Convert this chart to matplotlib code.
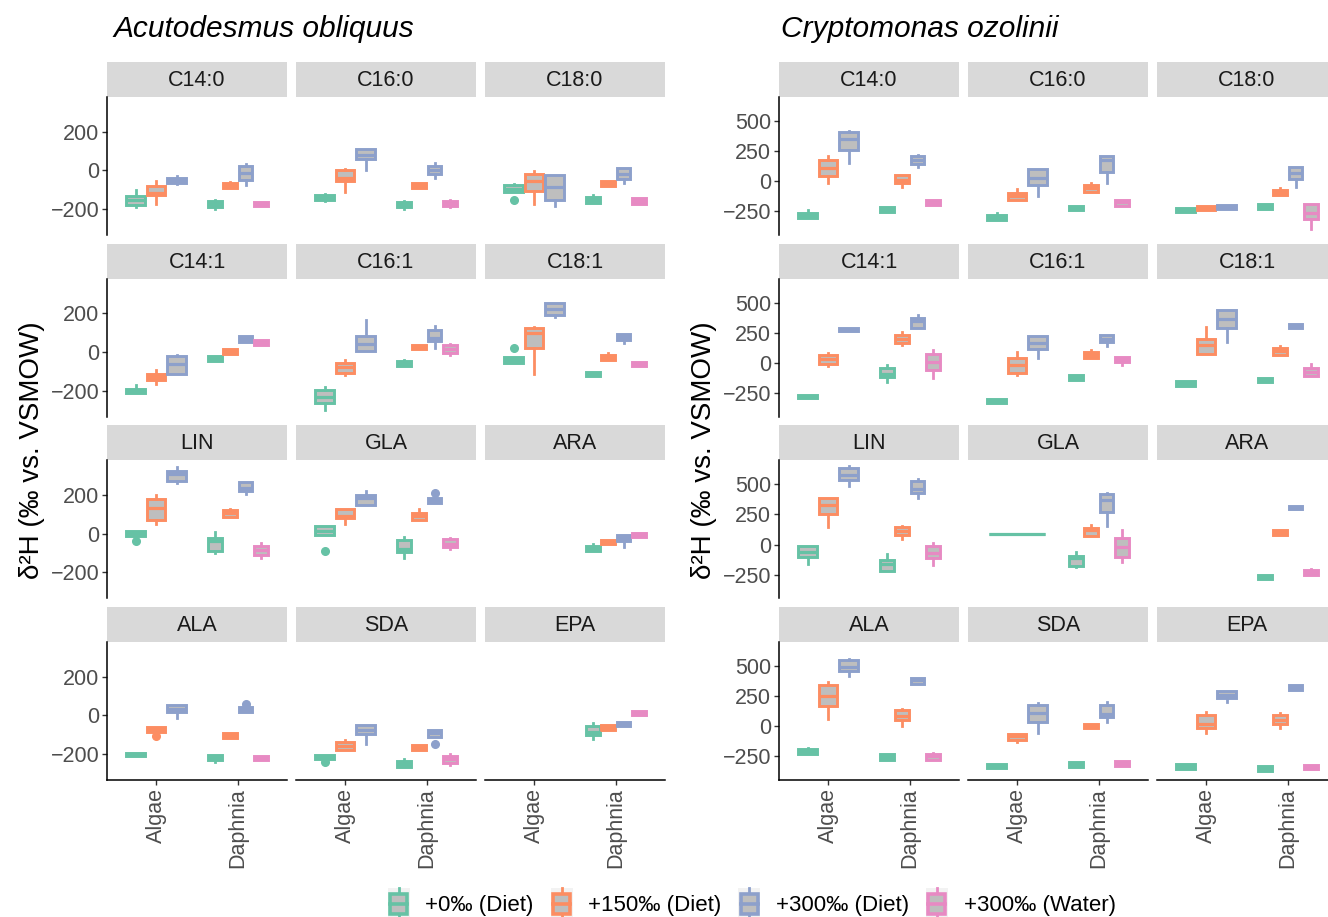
import matplotlib
matplotlib.use("Agg")
import matplotlib.pyplot as plt
from matplotlib.patches import Rectangle, Patch
from matplotlib.lines import Line2D
from matplotlib.legend_handler import HandlerBase

plt.rcParams['font.family'] = ['Liberation Sans', 'DejaVu Sans']

fatty_acids = ["C14:0", "C16:0", "C18:0", "C14:1", "C16:1", "C18:1",
               "LIN", "GLA", "ARA", "ALA", "SDA", "EPA"]
hosts = ["Algae", "Daphnia"]
treatments = ["+0‰ (Diet)", "+150‰ (Diet)", "+300‰ (Diet)", "+300‰ (Water)"]
colors = ["#66C2A5", "#FC8D62", "#8DA0CB", "#E78AC3"]

# box stats per fatty acid: (whisker low, q1, median, q3, whisker high)
# --- Acutodesmus obliquus ---
acu_algae_0 = [(-190, -178, -155, -133, -100), (-159, -155, -141, -129, -124), (-112, -112, -95, -78, -69),
               (-211, -211, -201, -191, -173), (-300, -266, -232, -197, -180), (-57, -57, -43, -26, -26),
               (-10, -10, 2, 14, 14), (-9, -9, 14, 40, 40), None,
               (-212, -212, -202, -193, -193), (-228, -228, -216, -207, -207), None]
acu_algae_150 = [(-176, -128, -115, -83, -55), (-112, -55, -38, 0, 5), (-176, -109, -57, -17, -5),
                 (-163, -146, -129, -112, -94), (-120, -106, -77, -57, -43), (-112, 22, 100, 125, 132),
                 (48, 73, 132, 180, 201), (52, 80, 92, 130, 130), None,
                 (-84, -84, -72, -60, -60), (-181, -181, -159, -138, -128), None]
acu_algae_300 = [(-72, -66, -52, -38, -31), (0, 57, 78, 110, 110), (-184, -152, -88, -26, -26),
                 (-112, -112, -64, -21, -17), (3, 3, 41, 81, 167), (184, 194, 223, 252, 252),
                 (265, 274, 312, 326, 348), (147, 147, 184, 201, 222), None,
                 (-12, 17, 34, 52, 52), (-147, -98, -78, -50, -47), None]
acu_daph_0 = [(-202, -191, -175, -159, -155), (-202, -191, -176, -162, -159), (-169, -169, -155, -138, -129),
              (-48, -48, -34, -19, -19), (-74, -74, -60, -48, -43), (-125, -125, -115, -105, -105),
              (-102, -87, -38, -21, 9), (-125, -97, -78, -35, -17), (-90, -90, -78, -64, -55),
              (-240, -233, -219, -205, -205), (-266, -266, -250, -236, -228), (-124, -103, -85, -55, -38)]
acu_daph_150 = [(-90, -90, -78, -66, -60), (-90, -90, -78, -66, -66), (-79, -79, -67, -55, -55),
                (-9, -9, 3, 15, 15), (15, 15, 27, 39, 39), (-43, -43, -29, -15, -5),
                (88, 88, 109, 121, 130), (73, 73, 92, 107, 126), (-52, -52, -42, -33, -33),
                (-116, -116, -103, -93, -93), (-178, -178, -166, -153, -153), (-78, -78, -64, -52, -52)]
acu_daph_300 = [(-78, -48, -12, 21, 34), (-38, -19, 0, 21, 38), (-64, -47, -20, 14, 14),
                (50, 50, 67, 81, 84), (22, 57, 74, 115, 137), (48, 64, 77, 94, 94),
                (204, 222, 239, 270, 270), (161, 161, 173, 184, 184), (-68, -38, -21, -9, -9),
                (17, 17, 31, 43, 43), (-110, -110, -90, -76, -76), (-53, -53, -43, -33, -33)]
acu_daph_water = [(-184, -184, -172, -162, -162), (-190, -186, -172, -160, -155), (-176, -176, -159, -141, -141),
                  (34, 34, 46, 60, 60), (-17, -5, 15, 34, 43), (-70, -70, -62, -53, -53),
                  (-125, -111, -85, -64, -50), (-81, -69, -52, -29, -21), (-16, -16, -3, 5, 5),
                  (-233, -233, -222, -210, -210), (-257, -248, -228, -210, -202), (0, 0, 10, 21, 21)]
# (fatty acid, host, treatment index, value)
acu_outliers = [("C18:0", "Algae", 0, -155), ("C18:1", "Algae", 0, 22), ("LIN", "Algae", 0, -38),
                ("GLA", "Algae", 0, -90), ("SDA", "Algae", 0, -240), ("ALA", "Algae", 1, -107),
                ("GLA", "Daphnia", 2, 210), ("ALA", "Daphnia", 2, 57), ("SDA", "Daphnia", 2, -150)]

# --- Cryptomonas ozolinii ---
cry_algae_0 = [(-308, -308, -286, -264, -244), (-325, -325, -303, -281, -269), (-258, -258, -242, -225, -225),
               (-294, -294, -280, -266, -266), (-331, -331, -314, -297, -297), (-190, -190, -170, -153, -153),
               (-161, -100, -64, -8, -8), (89, 89, 89, 89, 89), None,
               (-230, -230, -207, -188, -179), (-347, -347, -328, -311, -311), (-353, -353, -328, -311, -311)]
cry_algae_150 = [(-19, 42, 111, 172, 208), (-153, -153, -125, -97, -69), (-242, -242, -225, -208, -208),
                 (-28, -11, 28, 65, 85), (-105, -82, -20, 37, 91), (74, 74, 150, 201, 297),
                 (150, 250, 330, 386, 386), None, None,
                 (59, 171, 250, 344, 367), (-132, -115, -81, -62, -62), (-53, -11, 17, 95, 120)]
cry_algae_300 = [(147, 258, 350, 411, 417), (-125, -33, 30, 97, 103), (-230, -230, -214, -197, -197),
                 (263, 263, 277, 291, 291), (37, 113, 165, 226, 226), (173, 291, 362, 441, 441),
                 (483, 533, 575, 636, 650), None, None,
                 (414, 459, 493, 549, 560), (-53, 39, 110, 176, 190), (199, 232, 260, 297, 297)]
cry_daph_0 = [(-253, -253, -236, -217, -217), (-242, -242, -225, -208, -208), (-228, -228, -211, -194, -194),
              (-161, -119, -91, -40, -20), (-141, -141, -122, -105, -105), (-158, -158, -141, -125, -125),
              (-222, -222, -161, -128, -78), (-189, -181, -114, -92, -58), (-289, -289, -269, -250, -250),
              (-277, -277, -255, -235, -235), (-339, -339, -319, -300, -300), (-370, -370, -347, -333, -333)]
cry_daph_150 = [(-50, -19, 6, 50, 50), (-92, -92, -56, -33, -14), (-119, -119, -97, -75, -56),
                (150, 164, 198, 235, 255), (37, 37, 65, 91, 108), (68, 68, 99, 122, 141),
                (47, 81, 111, 150, 158), (67, 67, 117, 139, 164), (83, 83, 103, 122, 122),
                (3, 50, 87, 137, 143), (-11, -11, 6, 22, 22), (-11, 22, 50, 95, 112)]
cry_daph_300 = [(119, 139, 180, 208, 219), (-19, 75, 180, 208, 208), (-47, 19, 69, 114, 114),
                (291, 291, 348, 376, 396), (141, 170, 198, 229, 229), (289, 289, 306, 320, 320),
                (389, 428, 461, 525, 547), (158, 267, 367, 417, 431), (292, 292, 308, 322, 322),
                (353, 353, 381, 403, 403), (39, 73, 106, 179, 204), (302, 302, 319, 339, 339)]
cry_daph_water = [(-197, -197, -180, -158, -158), (-203, -203, -175, -153, -153), (-397, -314, -264, -194, -194),
                  (-125, -62, 8, 74, 108), (-20, 3, 28, 51, 51), (-108, -108, -76, -40, -11),
                  (-167, -111, -72, -11, 11), (-147, -100, -17, 53, 122), (-253, -253, -230, -211, -203),
                  (-277, -277, -249, -230, -221), (-333, -333, -311, -291, -291), (-356, -356, -336, -319, -319)]
cry_outliers = []

no_data = [None] * len(fatty_acids)

W, H = 1328, 917
fig = plt.figure(figsize=(W / 100, H / 100), dpi=100)


def px_axes(x, y, w, h):
    return fig.add_axes([x / W, 1 - (y + h) / H, w / W, h / H])


def draw_block(x0, data, outliers, ylim, yticks):
    for k, fa in enumerate(fatty_acids):
        r, c = divmod(k, 3)
        left = x0 + c * 189
        top = 62 + r * 181.7
        # strip
        sax = px_axes(left, top, 180, 35)
        sax.set_facecolor("#D9D9D9")
        sax.set_xticks([])
        sax.set_yticks([])
        for s in sax.spines.values():
            s.set_visible(False)
        sax.text(0.5, 0.47, fa, ha="center", va="center", fontsize=15.5,
                 color="#1A1A1A", transform=sax.transAxes)
        # panel
        ax = px_axes(left, top + 35, 180, 138)
        for hi, host in enumerate(hosts):
            present = [t for t in range(4) if data[host][t][k] is not None]
            n = len(present)
            for j, t in enumerate(present):
                lo, q1, med, q3, up = data[host][t][k]
                fl = [v for (f, h, tt, v) in outliers if f == fa and h == host and tt == t]
                pos = hi + 1 - 0.375 + (j + 0.5) * 0.75 / n
                col = colors[t]
                st = dict(whislo=lo, q1=q1, med=med, q3=q3, whishi=up, fliers=fl)
                ax.bxp([st], positions=[pos], widths=0.75 / n * 0.9, patch_artist=True,
                       showcaps=False, manage_ticks=False,
                       boxprops=dict(facecolor="#BEBEBE", edgecolor=col, linewidth=2.1),
                       medianprops=dict(color=col, linewidth=2.3, solid_capstyle="butt"),
                       whiskerprops=dict(color=col, linewidth=2.0),
                       flierprops=dict(marker="o", markerfacecolor=col, markeredgecolor=col,
                                       markersize=5.5))
        ax.set_xlim(0.4, 2.6)
        ax.set_ylim(*ylim)
        ax.spines["top"].set_visible(False)
        ax.spines["right"].set_visible(False)
        ax.spines["left"].set_linewidth(1.1)
        ax.spines["bottom"].set_linewidth(1.1)
        ax.tick_params(length=3.6, width=1.0, color="#333333", labelcolor="#4D4D4D",
                       labelsize=15.5, pad=2)
        if c == 0:
            ax.set_yticks(yticks)
            ax.set_yticklabels(["\u2212" + str(-v) if v < 0 else str(v) for v in yticks])
        else:
            ax.spines["left"].set_visible(False)
            ax.set_yticks([])
        if r == 3:
            ax.set_xticks([1, 2])
            ax.set_xticklabels(hosts, rotation=90, va="top", ha="center")
        else:
            ax.spines["bottom"].set_visible(False)
            ax.set_xticks([])


acu = {"Algae": [acu_algae_0, acu_algae_150, acu_algae_300, no_data],
       "Daphnia": [acu_daph_0, acu_daph_150, acu_daph_300, acu_daph_water]}
cry = {"Algae": [cry_algae_0, cry_algae_150, cry_algae_300, no_data],
       "Daphnia": [cry_daph_0, cry_daph_150, cry_daph_300, cry_daph_water]}

draw_block(107, acu, acu_outliers, (-335, 380), [-200, 0, 200])
draw_block(779, cry, cry_outliers, (-448, 700), [-250, 0, 250, 500])

fig.text(113 / W, 1 - 29 / H, "Acutodesmus obliquus", style="italic", fontsize=21.5,
         va="center", ha="left", color="black")
fig.text(781 / W, 1 - 29 / H, "Cryptomonas ozolinii", style="italic", fontsize=21.5,
         va="center", ha="left", color="black")
for xl in (32, 704):
    fig.text(xl / W, 1 - 450 / H, "δ²H (‰ vs. VSMOW)", rotation=90, fontsize=20,
             va="center", ha="center", color="black")


class BoxHandler(HandlerBase):
    def create_artists(self, legend, orig_handle, xdescent, ydescent, width, height,
                       fontsize, trans):
        col = orig_handle.get_edgecolor()
        cx = -xdescent + width / 2
        y0 = -ydescent
        bg = Rectangle((-xdescent, y0 - 0.3 * height), width, 1.6 * height,
                       facecolor="#F2F2F2", edgecolor="none", transform=trans)
        wl = Line2D([cx, cx], [y0 - 0.3 * height, y0 + 1.3 * height], color=col,
                    linewidth=2.0, transform=trans)
        box = Rectangle((-xdescent + 0.12 * width, y0), 0.76 * width, height,
                        facecolor="#BEBEBE", edgecolor=col, linewidth=2.6, transform=trans)
        med = Line2D([-xdescent + 0.12 * width, -xdescent + 0.88 * width],
                     [y0 + height / 2, y0 + height / 2], color=col, linewidth=2.6,
                     transform=trans)
        return [bg, wl, box, med]


handles = [Patch(facecolor="#BEBEBE", edgecolor=c) for c in colors]
fig.legend(handles, treatments, handler_map={Patch: BoxHandler()}, loc="center",
           bbox_to_anchor=(0.566, 1 - 905 / H), ncol=4, frameon=False, fontsize=16,
           handlelength=1.0, handleheight=1.0, handletextpad=0.7, columnspacing=0.75)

fig.savefig("out.png", dpi=100)
